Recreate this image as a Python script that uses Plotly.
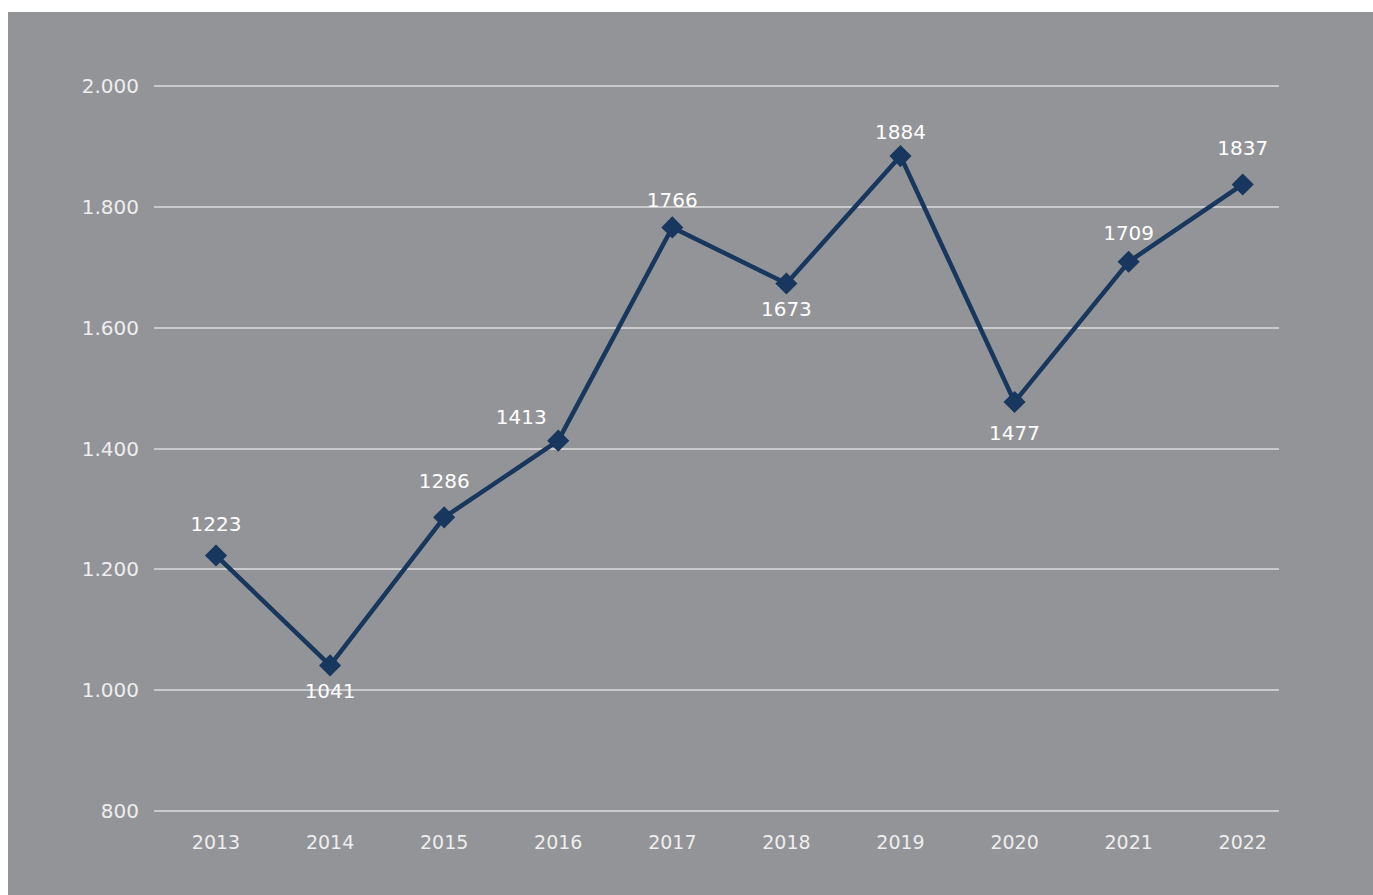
import plotly.graph_objects as go

years = ["2013", "2014", "2015", "2016", "2017", "2018", "2019", "2020", "2021", "2022"]
values = [1223, 1041, 1286, 1413, 1766, 1673, 1884, 1477, 1709, 1837]

# label placement (style only)
label_pos = ["top center", "bottom center", "top center", "top left", "top center",
             "bottom center", "top center", "bottom center", "top center", "top center"]
label_pad = [29, 27, 37, 17, 23, 27, 17, 35, 25, 37]

BG = "#939498"
LINE = "#17375E"
FONT_THIN = "DejaVu Sans ExtraLight, DejaVu Sans"

fig = go.Figure()
# data labels (transparent markers control the label distance), drawn underneath
fig.add_trace(go.Scatter(
    x=years, y=values, mode="markers+text",
    marker=dict(size=label_pad, color="rgba(0,0,0,0)",
                line=dict(width=0, color="rgba(0,0,0,0)")),
    text=[str(v) for v in values], textposition=label_pos,
    textfont=dict(family="DejaVu Sans", size=20, color="#ffffff"),
    cliponaxis=False, showlegend=False, hoverinfo="skip",
))
fig.add_trace(go.Scatter(
    x=years, y=values, mode="lines+markers",
    line=dict(color=LINE, width=4.5),
    marker=dict(symbol="diamond", size=17, color=LINE,
                line=dict(width=0, color=LINE)),
    cliponaxis=False, showlegend=False, hoverinfo="x+y",
))

fig.update_layout(
    width=1365, height=883,
    margin=dict(l=146, r=94, t=71, b=81),
    paper_bgcolor=BG, plot_bgcolor=BG,
    separators=",.",
    font=dict(family=FONT_THIN, color="#eeeeee", size=19),
    xaxis=dict(type="category", range=[-0.5435, 9.318], showgrid=False,
               zeroline=False, showline=False, ticks="",
               ticklabelstandoff=15,
               tickfont=dict(family=FONT_THIN, size=19, color="#eeeeee")),
    yaxis=dict(range=[795.03, 2004.97], tickvals=[800, 1000, 1200, 1400, 1600, 1800, 2000],
               tickformat=",d",
               showgrid=True, gridcolor="#cacacc", gridwidth=1.5,
               zeroline=False, showline=False, ticks="",
               ticklabelstandoff=14,
               tickfont=dict(family=FONT_THIN, size=20, color="#eeeeee")),
)

fig.write_html("out.html", config={"displayModeBar": False},
               post_script="document.body.style.margin='12px 0 0 8px';"
                           "document.body.style.overflow='hidden';")
